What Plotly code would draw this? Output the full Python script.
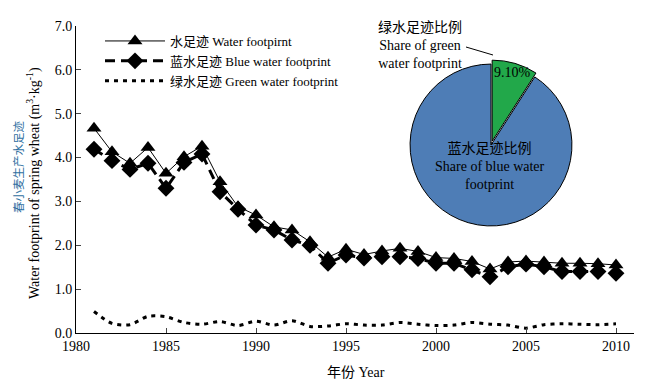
import plotly.graph_objects as go

years = list(range(1981, 2011))
water_fp = [4.67, 4.13, 3.87, 4.23, 3.64, 4.02, 4.26, 3.45, 2.88, 2.69,
            2.42, 2.35, 2.08, 1.73, 1.91, 1.79, 1.87, 1.93, 1.86, 1.72,
            1.70, 1.63, 1.46, 1.62, 1.64, 1.62, 1.59, 1.59, 1.58, 1.55]
blue_fp = [4.19, 3.93, 3.73, 3.87, 3.30, 3.89, 4.08, 3.22, 2.82, 2.46,
           2.35, 2.12, 2.00, 1.59, 1.78, 1.71, 1.74, 1.74, 1.70, 1.59,
           1.59, 1.44, 1.28, 1.51, 1.57, 1.51, 1.40, 1.40, 1.40, 1.36]
green_fp = [0.49, 0.22, 0.19, 0.38, 0.37, 0.24, 0.20, 0.26, 0.17, 0.27,
            0.18, 0.28, 0.15, 0.16, 0.21, 0.18, 0.18, 0.24, 0.20, 0.17,
            0.18, 0.24, 0.20, 0.18, 0.11, 0.19, 0.21, 0.20, 0.19, 0.21]

pie_labels = ["绿水足迹比例 Share of green water footprint",
              "蓝水足迹比例 Share of blue water footprint"]
pie_values = [9.10, 90.90]

x_ticks = [1980, 1985, 1990, 1995, 2000, 2005, 2010]
y_ticks = [0, 1, 2, 3, 4, 5, 6, 7]

FONT = "Liberation Serif, 'Times New Roman', 'Noto Sans CJK SC', serif"

# screen geometry of the plot area (page has an 8px body margin)
PL, PR, PT, PB = 76, 634, 26, 333


def px(xp):
    return (xp - PL) / (PR - PL)


def py(yp):
    return (PB - yp) / (PB - PT)


fig = go.Figure()
fig.add_trace(go.Scatter(
    x=years, y=water_fp, mode="lines+markers", name="水足迹 Water footpirnt",
    line=dict(color="black", width=1),
    marker=dict(symbol="triangle-up", size=13, color="black"),
))
fig.add_trace(go.Scatter(
    x=years, y=blue_fp, mode="lines+markers", name="蓝水足迹 Blue water footprint",
    line=dict(color="black", width=3, dash="10px,6px"),
    marker=dict(symbol="diamond", size=13, color="black"),
))
fig.add_trace(go.Scatter(
    x=years, y=green_fp, mode="lines", name="绿水足迹 Green water footprint",
    line=dict(color="black", width=3, dash="4px,5px", shape="spline", smoothing=0.8),
))

pull = 0.05
fig.add_trace(go.Pie(
    labels=pie_labels, values=pie_values, sort=False, direction="clockwise",
    rotation=0, pull=[pull, 0], showlegend=False,
    marker=dict(colors=["#22A84A", "#4E7DB6"], line=dict(color="black", width=1)),
    textinfo="none", hoverinfo="label+percent",
    domain=dict(x=[px(406), px(576)], y=[py(230), py(60)]),
))

ann = []
common = dict(xref="paper", yref="paper", showarrow=False,
              xanchor="center", yanchor="middle")
ann.append(dict(x=px(512), y=py(73), text=f"{pie_values[0]:.2f}%",
                font=dict(family=FONT, size=14, color="black"), **common))
ann.append(dict(x=px(490), y=py(166),
                text="蓝水足迹比例<br>Share of blue water<br>footprint",
                font=dict(family=FONT, size=14, color="black"), align="center", **common))
ann.append(dict(x=px(420), y=py(45),
                text="绿水足迹比例<br>Share of green<br>water footprint",
                font=dict(family=FONT, size=14, color="black"), align="center", **common))
ann.append(dict(x=px(18), y=py(167), text="春小麦生产水足迹", textangle=-90,
                font=dict(family=FONT, size=11.5, color="#2F6F9F"), **common))
ann.append(dict(x=px(33), y=py(183),
                text="Water footprint of spring wheat (m<sup>3</sup>·kg<sup>-1</sup>)",
                textangle=-90, font=dict(family=FONT, size=14, color="black"), **common))
ann.append(dict(x=px(356), y=py(372), text="年份 Year",
                font=dict(family=FONT, size=14, color="black"), **common))

fig.update_layout(
    width=641, height=380,
    margin=dict(l=PL - 8, r=649 - PR, t=PT - 8, b=388 - PB),
    paper_bgcolor="white", plot_bgcolor="white",
    font=dict(family=FONT, size=14, color="black"),
    showlegend=True,
    legend=dict(x=px(100), y=py(26), xanchor="left", yanchor="top",
                bgcolor="rgba(0,0,0,0)", font=dict(size=13),
                itemwidth=60, tracegroupgap=0),
    annotations=ann,
    shapes=[dict(type="line", xref="paper", yref="paper",
                 x0=px(466), y0=py(47), x1=px(493), y1=py(55),
                 line=dict(color="black", width=1))],
)
fig.update_xaxes(range=[1980, 2011], tickvals=x_ticks, ticks="inside", ticklen=5,
                 showline=True, linecolor="black", linewidth=1, showgrid=False,
                 zeroline=False, tickfont=dict(size=14))
fig.update_yaxes(range=[0, 7], tickvals=y_ticks, tickformat=".1f", ticks="inside",
                 ticklen=5, showline=True, linecolor="black", linewidth=1,
                 showgrid=False, zeroline=False, tickfont=dict(size=14))

fig.write_html("out.html")
